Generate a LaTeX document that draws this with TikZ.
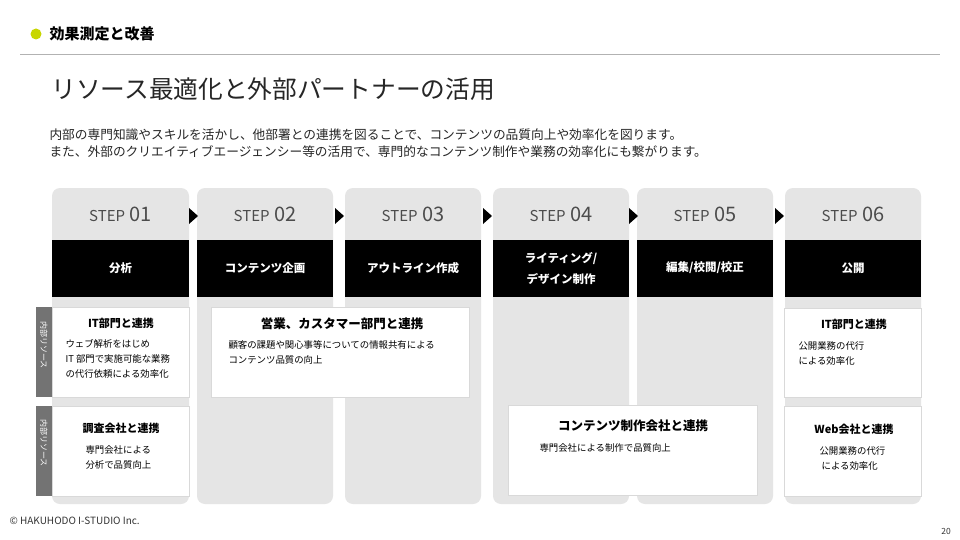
\documentclass[tikz,border=0pt]{standalone}
\usepackage{fontspec}
\setmainfont{Noto Sans CJK JP}
\begin{document}
\begin{tikzpicture}[x=1pt,y=-1pt,
  col/.style={fill=black!10,rounded corners=8pt},
  band/.style={fill=black},
  card/.style={fill=white,draw=black!15,line width=0.6pt},
  side/.style={fill=black!55},
  arr/.style={fill=black},
  steptxt/.style={font=\fontsize{20}{20}\selectfont,text=black!70},
  bandtxt/.style={font=\fontsize{11.5}{21}\selectfont\bfseries,text=white,align=center},
  ctitle/.style={font=\fontsize{11}{13}\selectfont\bfseries,align=center},
  ctext/.style={font=\fontsize{9.4}{15}\selectfont,align=left},
  sidetxt/.style={font=\fontsize{8}{8}\selectfont,text=white,rotate=-90}]
\useasboundingbox (0,0) rectangle (960,540);
\fill[white] (0,0) rectangle (960,540);
\fill[fill={rgb,255:red,200;green,214;blue,0}] (36,34) circle (5.5);
\node[anchor=west,font=\fontsize{15}{15}\selectfont\bfseries] (hd) at (46,34) {効果測定と改善};
\draw[black!30,line width=0.6pt] (20,54) -- (940,54);
\node[anchor=west,font=\fontsize{24.7}{25}\selectfont,text=black!85] (tt) at (48,89) {リソース最適化と外部パートナーの活用};
\node[anchor=north west,align=left,font=\fontsize{12.7}{17}\selectfont,text=black!85] (desc) at (46,125) {内部の専門知識やスキルを活かし、他部署との連携を図ることで、コンテンツの品質向上や効率化を図ります。\\また、外部のクリエイティブエージェンシー等の活用で、専門的なコンテンツ制作や業務の効率化にも繋がります。};
% columns
\foreach \i/\a/\b/\s/\t in {1/52/189/01/{分析},2/197/333/02/{コンテンツ企画},3/345/481/03/{アウトライン作成},4/493/629/04/{ライティング/\\デザイン制作},5/637/773/05/{編集/校閲/校正},6/785/921/06/{公開}}{
  \fill[col] (\a,188) rectangle (\b,504);
  \fill[band] (\a,240) rectangle (\b,297);
  \node[steptxt] (s\i) at ({(\a+\b)/2},214) {{\fontsize{15}{15}\selectfont STEP} \s};
  \node[bandtxt] (b\i) at ({(\a+\b)/2},268) {\t};
}
\foreach \x/\n in {193/1,339/2,487/3,633/4,779/5}{
  \fill[arr] (\x-4,208) -- (\x+5,216) -- (\x-4,224) -- cycle;
}
% side labels
\fill[side] (36,307) rectangle (52,397);
\node[sidetxt] (sl1) at (44,345) {内部リソース};
\fill[side] (36,406) rectangle (52,496);
\node[sidetxt] (sl2) at (44,443) {内部リソース};
% cards
\draw[card] (52,307) rectangle (189,397);
\node[ctitle] (c1t) at (121,323) {IT部門と連携};
\node[ctext,anchor=north west] (c1x) at (62,336) {ウェブ解析をはじめ\\IT 部門で実施可能な業務\\の代行依頼による効率化};
\draw[card] (52,406) rectangle (189,496);
\node[ctitle] (c2t) at (121,428) {調査会社と連携};
\node[ctext,anchor=north west] (c2x) at (82,442) {専門会社による\\分析で品質向上};
\draw[card] (211,307) rectangle (469,397);
\node[ctitle,font=\fontsize{12.5}{13}\selectfont\bfseries] (c3t) at (342,324) {営業、カスタマー部門と連携};
\node[ctext,anchor=north west] (c3x) at (225,337) {顧客の課題や関心事等についての情報共有による\\コンテンツ品質の向上};
\draw[card] (508,405) rectangle (757,495);
\node[ctitle,font=\fontsize{12.5}{13}\selectfont\bfseries] (c4t) at (633,426) {コンテンツ制作会社と連携};
\node[ctext,anchor=north west] (c4x) at (536,440) {専門会社による制作で品質向上};
\draw[card] (784,308) rectangle (921,397);
\node[ctitle] (c5t) at (854,324) {IT部門と連携};
\node[ctext,anchor=north west] (c5x) at (795,338) {公開業務の代行\\による効率化};
\draw[card] (784,406) rectangle (921,496);
\node[ctitle] (c6t) at (854,429) {Web会社と連携};
\node[ctext,anchor=north west] (c6x) at (816,443) {公開業務の代行\\\ による効率化};
\node[anchor=west,font=\fontsize{10}{10}\selectfont,text=black!80] (cp) at (6,521) {© HAKUHODO I-STUDIO Inc.};
\node[font=\fontsize{8.5}{8.5}\selectfont,text=black!80] (pg) at (946,531) {20};
\end{tikzpicture}
\end{document}
